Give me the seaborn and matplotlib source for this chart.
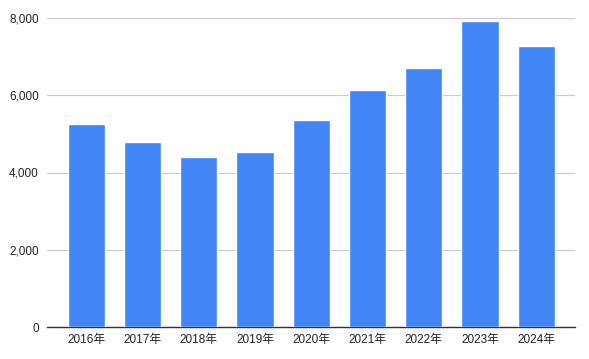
import matplotlib
matplotlib.use("Agg")
import matplotlib.pyplot as plt
import seaborn as sns
import pandas as pd

years = ["2016年", "2017年", "2018年", "2019年", "2020年", "2021年", "2022年", "2023年", "2024年"]
values = [5265, 4800, 4410, 4540, 5370, 6130, 6700, 7910, 7265]

sns.set_theme(style="white")
plt.rcParams['font.family'] = ['Liberation Sans', 'Noto Sans CJK JP', 'DejaVu Sans']

df = pd.DataFrame({"year": years, "value": values})

fig = plt.figure(figsize=(5.89, 3.59), dpi=100)
ax = fig.add_axes([47/589, 1-327/359, (575-47)/589, (327-18)/359])
sns.barplot(data=df, x="year", y="value", color="#4285F4", saturation=1, width=0.66, ax=ax, zorder=3)

ax.set_xlim(-0.7, 8.69)
ax.set_ylim(0, 8000)
ax.set_yticks([0, 2000, 4000, 6000, 8000])
ax.set_yticklabels([f"{v:,}" for v in [0, 2000, 4000, 6000, 8000]])
ax.yaxis.grid(True, color="#cccccc", linewidth=0.9, zorder=0)
ax.set_axisbelow(True)
for s in ["top", "right", "left"]:
    ax.spines[s].set_visible(False)
ax.spines["bottom"].set_color("#333333")
ax.spines["bottom"].set_linewidth(1)
ax.tick_params(axis="both", length=0, labelsize=8.5, colors="#222222")
ax.tick_params(axis="y", pad=6)
ax.tick_params(axis="x", pad=5)
ax.set_xlabel("")
ax.set_ylabel("")

fig.savefig("out.png", dpi=100)
